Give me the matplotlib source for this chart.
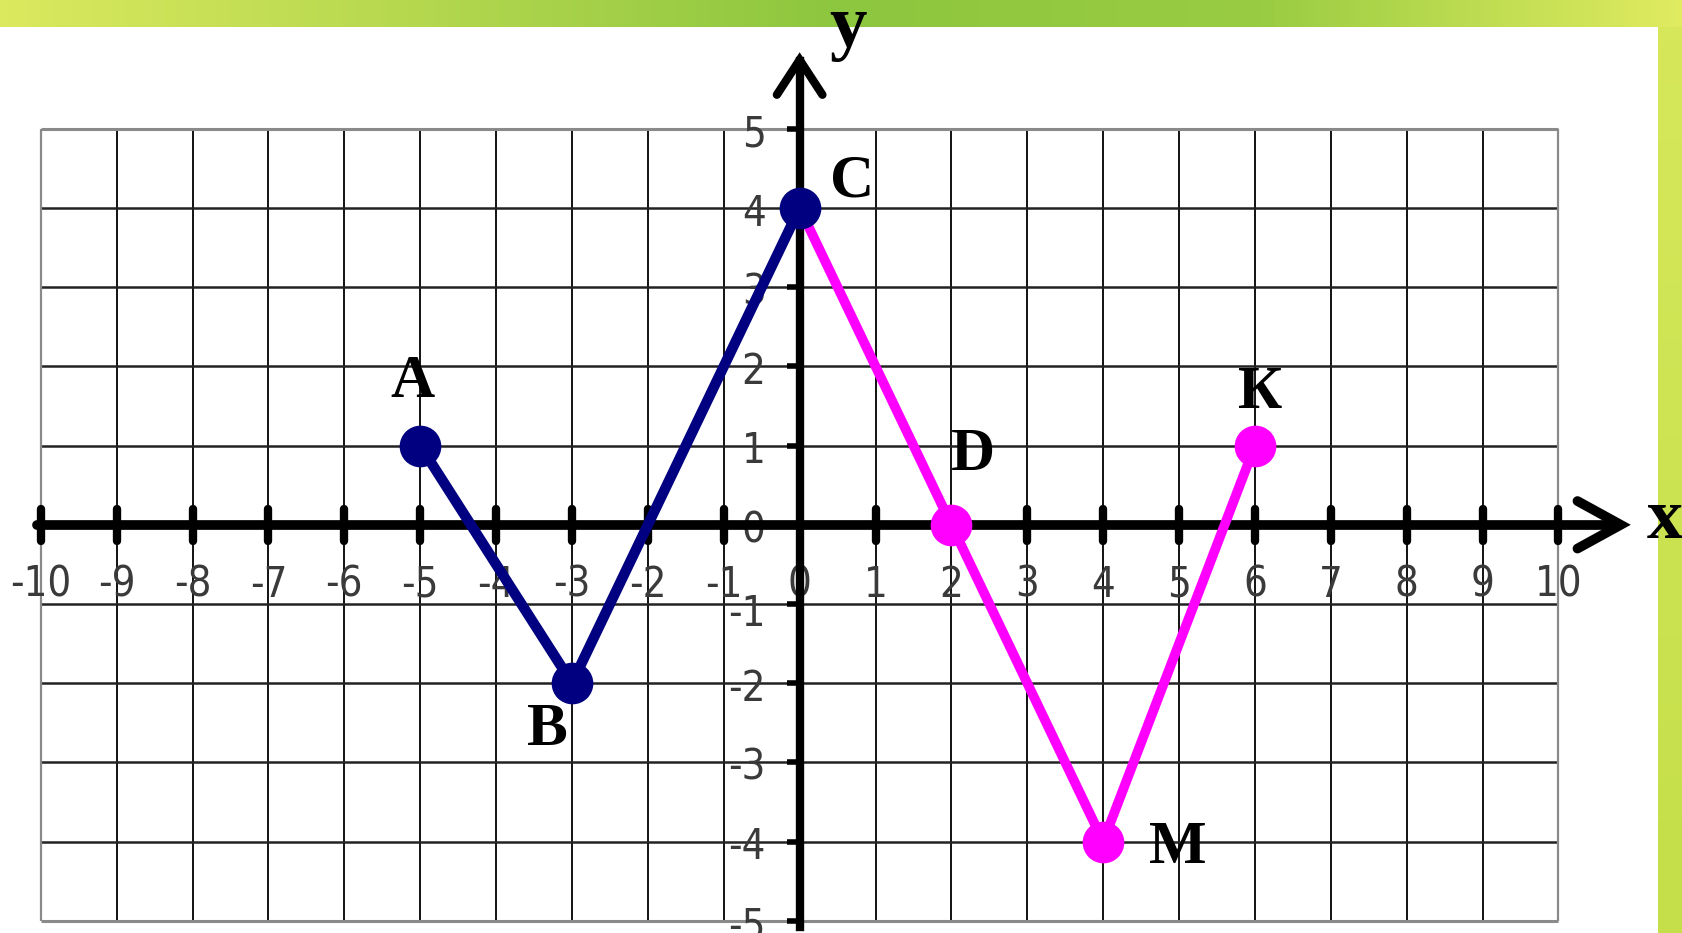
import numpy as np
import matplotlib.pyplot as plt
from matplotlib.colors import LinearSegmentedColormap

# coordinate grid values
x_ticks = list(range(-10, 11))
y_ticks = list(range(-5, 6))

# broken line A-B-C (navy) and C-D-M-K (magenta)
blue_x = [-5, -3, 0]
blue_y = [1, -2, 4]
blue_names = ['A', 'B', 'C']
pink_x = [0, 2, 4, 6]
pink_y = [4, 0, -4, 1]
pink_names = ['C', 'D', 'M', 'К']

W, H = 1683, 933
fig = plt.figure(figsize=(W / 100, H / 100), dpi=100)
fig.patch.set_facecolor('white')

# green slide decoration: top bar + right strip
green = LinearSegmentedColormap.from_list(
    'g', [(0, '#dbe95e'), (0.5, '#8dc63f'), (0.75, '#99cc42'), (1, '#e0eb60')])
bar = fig.add_axes([0, 1 - 27 / H, 1, 27 / H])
bar.imshow(np.linspace(0, 1, 256).reshape(1, -1), cmap=green, aspect='auto')
bar.axis('off')
side = fig.add_axes([1658 / W, 0, 25 / W, 1 - 27 / H])
side.imshow(np.linspace(0, 1, 64).reshape(-1, 1), aspect='auto',
            cmap=LinearSegmentedColormap.from_list('s', ['#d6e85a', '#c4df4a']))
side.axis('off')

ax = fig.add_axes([0, 0, 1, 1])
ax.patch.set_alpha(0)
ux, uy = 75.885, 79.2
x0px, y0px = 40.8, 524.8
ax.set_xlim(-10 - x0px / ux, -10 + (W - x0px) / ux)
ax.set_ylim(-(H - y0px) / uy, y0px / uy)
ax.axis('off')

# grid
inner_x = [v for v in x_ticks if abs(v) != 10]
inner_y = [v for v in y_ticks if abs(v) != 5]
ax.vlines(inner_x, -5, 5, color='#111111', lw=1.4, zorder=1)
ax.hlines(inner_y, -10, 10, color='#222222', lw=1.8, zorder=1)
ax.vlines([-10, 10], -5, 5, color='#8a8a8a', lw=1.6, zorder=1)
ax.hlines([-5, 5], -10, 10, color='#8a8a8a', lw=2.2, zorder=1)

# axes with arrows
ax.plot([-10.05, 10.8], [0, 0], color='black', lw=7, solid_capstyle='round', zorder=3)
ax.plot([10.25, 10.82, 10.25], [0.3, 0, -0.3], color='black', lw=7,
        solid_joinstyle='miter', solid_capstyle='round', zorder=3)
ax.plot([0, 0], [-5.08, 5.85], color='black', lw=6, zorder=3)
ax.plot([-0.3, 0, 0.3], [5.43, 5.87, 5.43], color='black', lw=6,
        solid_joinstyle='miter', solid_capstyle='round', zorder=3)

for v in x_ticks:
    if v != 0:
        ax.plot([v, v], [-0.2, 0.2], color='black', lw=6, solid_capstyle='round', zorder=3)
for v in y_ticks:
    if v != 0:
        ax.plot([-0.17, 0], [v, v], color='black', lw=4, solid_capstyle='butt', zorder=3)

# tick labels
tick_font = dict(family=['DejaVu Sans'], fontstretch='condensed', fontweight='light',
                 fontsize=30, color='#3a3a3a', zorder=2)
for v in x_ticks:
    ax.text(v, -0.76, str(v), ha='center', va='center', **tick_font)
for v in y_ticks:
    ax.text(-0.45, v - 0.07 - (0.05 if v == -1 else 0), str(v), ha='right', va='center',
            **tick_font)

# the two polylines
ax.plot(pink_x, pink_y, color='#ff00ff', lw=7, marker='o', ms=29,
        markevery=[1, 2, 3], zorder=4)
ax.plot(blue_x, blue_y, color='#000080', lw=7.5, marker='o', ms=29, zorder=5)

# point names
offsets = {'A': (-0.1, 0.8), 'B': (-0.32, -0.59), 'C': (0.69, 0.33),
           'D': (0.28, 0.88), 'M': (0.98, -0.08), 'К': (0.07, 0.66)}
lab_font = dict(family=['Liberation Serif', 'DejaVu Serif'], fontweight='bold',
                fontsize=44, color='black', ha='center', va='center', zorder=6)
for name, px, py in zip(blue_names + pink_names[1:], blue_x + pink_x[1:], blue_y + pink_y[1:]):
    dx, dy = offsets[name]
    ax.text(px + dx, py + dy, name, **lab_font)

ax.text(0.64, 6.27, 'y', family=['Liberation Serif'], fontweight='bold', fontsize=54,
        ha='center', va='center', zorder=6)
ax.text(11.4, 0.05, 'x', family=['Liberation Serif'], fontweight='bold', fontsize=52,
        ha='center', va='center', zorder=6)

fig.savefig('out.png', dpi=100)
